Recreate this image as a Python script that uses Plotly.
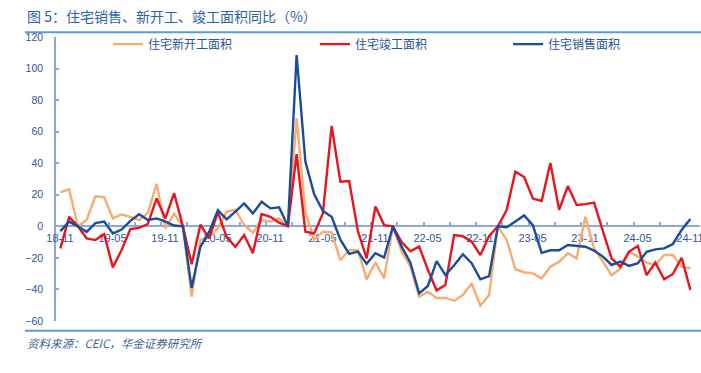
import plotly.graph_objects as go
import pandas as pd

# ---- data (month-on-month single-month YoY, %) ----
months = [p.strftime("%y-%m") for p in pd.period_range("2018-11", "2024-11", freq="M")]

starts = [21.5, 23.4, 0, 4, 19, 18.5, 5, 7.5, 6, 4, 8.5, 27, -1.3, 8, 0,
          -44.6, -8.6, -6.5, -1.3, 9.3, 10.5, 1, -4, 4, 3, 5, 0,
          68.4, 9, -8.5, -3.4, -3.8, -21.5, -15, -15, -33.6, -22.8, -33, 0,
          -16, -25.6, -44.6, -41.4, -45.4, -45.4, -47.2, -43.5, -36.1, -50.3, -43.5, 0,
          -8.6, -27.2, -29.1, -29.8, -33, -25.6, -22.4, -17.1, -20.3, 6.1, -14,
          -22.4, -31, -26.8, -16, -19.2, -23, -24.5, -18.2, -18.2, -25.6, -26.6]

completions = [-14, 6, 0, -7.6, -8.7, -5, -26, -15, -1.7, -1, 1.5, 17.7, 5, 21, 0,
               -24, 1, -7.6, 9, -6.8, -13, -5.5, -17, 7.8, 6, 2.3, 0,
               45.8, -3.4, -4.5, 8.2, 63.6, 28.3, 28.7, -3, -20.3, 12.6, 0.8, 0,
               -10, -15.8, -12.7, -27.5, -40.6, -37.2, -5.5, -6.3, -9.7, -18.2, -6.1, 0,
               10.3, 34.6, 31.3, 17.6, 16.1, 40.2, 10.5, 25.5, 13.5, 14.1, 15,
               -3, -20.3, -25.6, -16, -12.5, -30.9, -23, -33.6, -30.2, -19.9, -40.3]

sales = [-3, 3, 0, -3.5, 2, 3, -4.5, -2, 3.5, 7.7, 4, 5, 3, 0.5, 0,
         -39, -13, -3.5, 10.3, 4.4, 9.3, 14.5, 8.2, 15.6, 11.4, 12, 0,
         108.6, 41, 20.5, 9.7, 6, -8.5, -17.5, -16, -23.8, -17, -19.8, 0,
         -12.9, -23, -42.5, -37.8, -22, -30.9, -24.7, -17.7, -23.4, -33.6, -31.5, 0,
         -0.6, 3, 6.9, 0.8, -16.8, -15.2, -15.2, -11.8, -12.2, -12.9, -15.4,
         -19.2, -24.5, -22.4, -25.1, -23.4, -16.1, -14.6, -14, -11.2, -2.3, 4.6]

tick_labels = ["18-11", "19-05", "19-11", "20-05", "20-11", "21-05", "21-11",
               "22-05", "22-11", "23-05", "23-11", "24-05", "24-11"]

series_names = ["住宅新开工面积", "住宅竣工面积", "住宅销售面积"]
colors = ["#F4AD72", "#E8141E", "#1A4C9C"]

x = list(range(len(months)))

fig = go.Figure()
for name, vals, col, lg in zip(series_names, [starts, completions, sales], colors,
                               ["legend", "legend2", "legend3"]):
    fig.add_trace(go.Scatter(x=x, y=vals, mode="lines", name=name, text=months,
                             line=dict(color=col, width=2.4), legend=lg,
                             cliponaxis=False,
                             hovertemplate="%{text}: %{y}<extra></extra>"))

# ticks every 3 months at slot boundaries, labels every 6 months
tickvals = [-0.5 + 3 * k for k in range(25)]
ticktext = [tick_labels[k // 2] if k % 2 == 0 else "" for k in range(25)]

axis_col = "#8EA9D8"
label_col = "#2F5597"

fig.update_layout(
    width=701, height=373,
    margin=dict(l=56, r=1, t=37, b=52, autoexpand=False),
    paper_bgcolor="white", plot_bgcolor="white",
    font=dict(family="Liberation Sans, Noto Sans CJK SC", color=label_col),
    xaxis=dict(range=[-0.5, 73.1], anchor="free", position=1/3, automargin=False,
               showline=True, linecolor=axis_col, linewidth=1.5,
               ticks="inside", ticklen=4, tickcolor=axis_col, tickwidth=1.5,
               tickmode="array", tickvals=tickvals, ticktext=ticktext,
               ticklabelshift=4, ticklabelstandoff=2, ticklabeloverflow="allow",
               tickfont=dict(size=11, color=label_col),
               showgrid=False, zeroline=False, layer="below traces"),
    yaxis=dict(range=[-60, 120], dtick=20, tick0=0, automargin=False,
               showline=True, linecolor=axis_col, linewidth=1.5,
               ticks="inside", ticklen=3, tickcolor=axis_col, tickwidth=1.5,
               ticklabelstandoff=9,
               tickfont=dict(size=10.5, color=label_col),
               showgrid=False, zeroline=False, layer="below traces"),
    showlegend=True,
)

legend_common = dict(orientation="h", yanchor="middle", y=0.975, xanchor="left",
                     bgcolor="rgba(0,0,0,0)", borderwidth=0,
                     font=dict(family="Noto Sans CJK SC", size=12, color="#2A5399"))
fig.update_layout(
    legend=dict(x=0.0807, **legend_common),
    legend2=dict(x=0.402, **legend_common),
    legend3=dict(x=0.702, **legend_common),
)

# title, separators, source
fig.add_annotation(xref="paper", yref="paper", x=(25 - 56) / 644, y=(321 - 16) / 284,
                   xanchor="left", yanchor="middle", showarrow=False,
                   text="图 5：住宅销售、新开工、竣工面积同比（%）",
                   font=dict(family="Noto Sans CJK SC", size=14, color="#2E62A8"))
fig.add_shape(type="line", xref="paper", yref="paper",
              x0=(25 - 56) / 644, x1=(701 - 56) / 644,
              y0=(321 - 32.3) / 284, y1=(321 - 32.3) / 284,
              line=dict(color="#5B9BD5", width=2))
fig.add_shape(type="line", xref="paper", yref="paper",
              x0=(25 - 56) / 644, x1=(701 - 56) / 644,
              y0=(321 - 330.7) / 284, y1=(321 - 330.7) / 284,
              line=dict(color="#5B9BD5", width=2))
fig.add_annotation(xref="paper", yref="paper", x=(25 - 56) / 644, y=(321 - 343) / 284,
                   xanchor="left", yanchor="middle", showarrow=False,
                   text="<i>资料来源：CEIC，华金证券研究所</i>",
                   font=dict(family="Noto Sans CJK SC", size=11.5, color="#3F5F96"))

fig.write_html("out.html", config={"displayModeBar": False},
               post_script="document.body.style.margin='0';document.body.style.padding='0';")
